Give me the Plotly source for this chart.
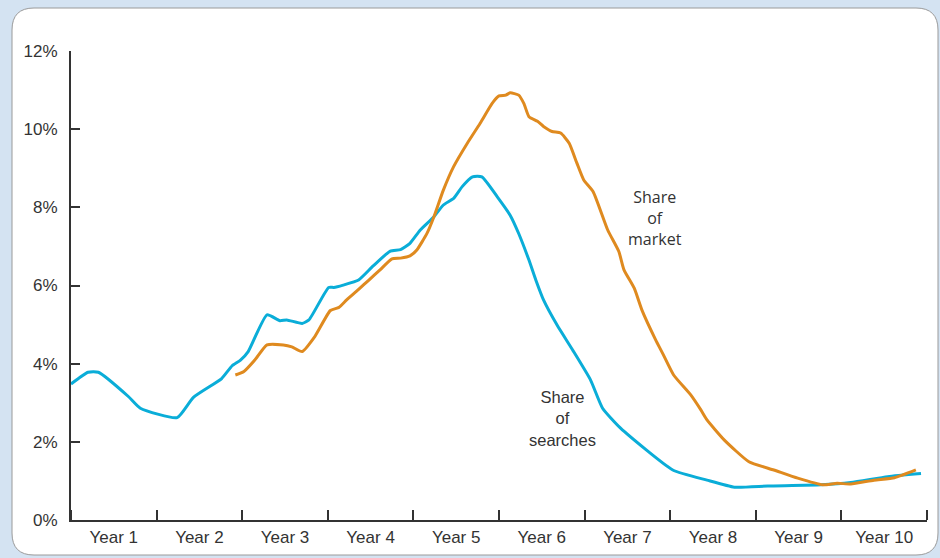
import plotly.graph_objects as go

# Time in years since start (0 = start of Year 1), share in percent
search_t = [0.0, 0.20, 0.32, 0.67, 0.81, 1.24, 1.43, 1.76, 1.88, 1.98, 2.07, 2.29, 2.44, 2.52,
            2.70, 2.78, 3.01, 3.07, 3.18, 3.36, 3.53, 3.73, 3.85, 3.96, 4.08, 4.24, 4.35,
            4.47, 4.57, 4.69, 4.80, 4.98, 5.13, 5.23, 5.35, 5.43, 5.52, 5.68, 5.86, 6.07, 6.21,
            6.42, 7.03, 7.43, 7.75, 8.14, 8.76, 9.11, 9.54, 9.93]
search_share = [3.48, 3.78, 3.78, 3.16, 2.86, 2.62, 3.14, 3.62, 3.94, 4.09, 4.31, 5.25, 5.10, 5.12,
                5.03, 5.12, 5.95, 5.95, 6.01, 6.14, 6.50, 6.88, 6.92, 7.08, 7.42, 7.76, 8.06,
                8.23, 8.53, 8.78, 8.78, 8.27, 7.80, 7.33, 6.65, 6.14, 5.63, 4.98, 4.35, 3.58, 2.86,
                2.35, 1.28, 1.02, 0.84, 0.87, 0.90, 0.96, 1.11, 1.19]

market_t = [1.92, 2.02, 2.15, 2.29, 2.48, 2.58, 2.70, 2.85, 3.03, 3.13, 3.22, 3.36, 3.48, 3.61,
            3.75, 3.85, 3.96, 4.04, 4.16, 4.24, 4.35, 4.47, 4.63, 4.78, 4.92, 5.00, 5.08,
            5.13, 5.23, 5.29, 5.35, 5.45, 5.52, 5.62, 5.72, 5.82, 5.91, 5.99, 6.10, 6.27,
            6.40, 6.46, 6.58, 6.67, 6.83, 6.91, 7.04, 7.24, 7.36, 7.43, 7.63, 7.92, 8.21,
            8.49, 8.78, 8.95, 9.11, 9.38, 9.62, 9.87]
market_share = [3.71, 3.80, 4.10, 4.48, 4.48, 4.43, 4.31, 4.70, 5.36, 5.44, 5.63, 5.90, 6.14, 6.40,
                6.68, 6.70, 6.76, 6.91, 7.34, 7.76, 8.44, 9.04, 9.64, 10.15, 10.66, 10.85, 10.87,
                10.93, 10.87, 10.66, 10.32, 10.20, 10.07, 9.94, 9.90, 9.64, 9.13, 8.70, 8.40, 7.42,
                6.87, 6.40, 5.93, 5.37, 4.61, 4.27, 3.71, 3.20, 2.81, 2.56, 2.05, 1.49, 1.28,
                1.07, 0.90, 0.94, 0.92, 1.02, 1.08, 1.28]

year_labels = ["Year 1", "Year 2", "Year 3", "Year 4", "Year 5",
               "Year 6", "Year 7", "Year 8", "Year 9", "Year 10"]
year_centers = [i + 0.5 for i in range(len(year_labels))]
y_ticks = [0, 2, 4, 6, 8, 10, 12]
y_tick_text = [f"{v}%" for v in y_ticks]

BLUE = "#0AADD8"
ORANGE = "#DF8A1F"
INK = "#333333"

W, H = 940, 558
ml, mr, mt, mb = 71, 13, 51, 38
pw, ph = W - ml - mr, H - mt - mb


def px_to_paper(x, y):
    return (x - ml) / pw, (H - mb - y) / ph


fig = go.Figure()
fig.add_trace(go.Scatter(x=search_t, y=search_share, mode="lines",
                         line=dict(color=BLUE, width=3, shape="spline", smoothing=0.5),
                         hoverinfo="skip", showlegend=False))
fig.add_trace(go.Scatter(x=market_t, y=market_share, mode="lines",
                         line=dict(color=ORANGE, width=3, shape="spline", smoothing=0.5),
                         hoverinfo="skip", showlegend=False))

# white rounded panel
x0, y0 = px_to_paper(12, 555)
x1, y1 = px_to_paper(938, 8)
rx = 22 / pw
ry = 22 / ph
path = (f"M {x0+rx},{y1} L {x1-rx},{y1} Q {x1},{y1} {x1},{y1-ry} "
        f"L {x1},{y0+ry} Q {x1},{y0} {x1-rx},{y0} L {x0+rx},{y0} "
        f"Q {x0},{y0} {x0},{y0+ry} L {x0},{y1-ry} Q {x0},{y1} {x0+rx},{y1} Z")
fig.add_shape(type="path", path=path, xref="paper", yref="paper",
              fillcolor="white", line=dict(color="#9a9a9a", width=1), layer="below")

fig.add_annotation(x=5.74, y=2.60, text="Share<br>of<br>searches", showarrow=False,
                   font=dict(family="Liberation Sans, Arial", size=16.5, color=INK), align="center")
fig.add_annotation(x=6.82, y=7.73, text="Share<br>of<br>market", showarrow=False,
                   font=dict(family="Open Sans", size=16, color=INK), align="center")

fig.update_layout(
    width=W, height=H,
    margin=dict(l=ml, r=mr, t=mt, b=mb, pad=0),
    paper_bgcolor="#D4E3F2",
    plot_bgcolor="rgba(0,0,0,0)",
    font=dict(family="Liberation Sans, Arial", size=17, color=INK),
    xaxis=dict(range=[0, 10], showgrid=False, zeroline=False,
               showline=True, linecolor=INK, linewidth=2,
               tickvals=year_centers, ticktext=year_labels, ticks="", ticklen=0,
               ticklabelstandoff=1,
               minor=dict(tick0=0, dtick=1, ticks="inside", ticklen=10,
                          tickcolor=INK, tickwidth=1.5, showgrid=False),
               fixedrange=True),
    yaxis=dict(range=[0, 12], showgrid=False, zeroline=False,
               showline=True, linecolor=INK, linewidth=2,
               tickvals=y_ticks, ticktext=y_tick_text, ticks="inside", ticklen=9,
               tickcolor=INK, tickwidth=1.5, ticklabelstandoff=8,
               fixedrange=True),
)

fig.write_html("out.html", config={"displayModeBar": False},
               post_script="document.body.style.margin='0';document.body.style.padding='0';")
